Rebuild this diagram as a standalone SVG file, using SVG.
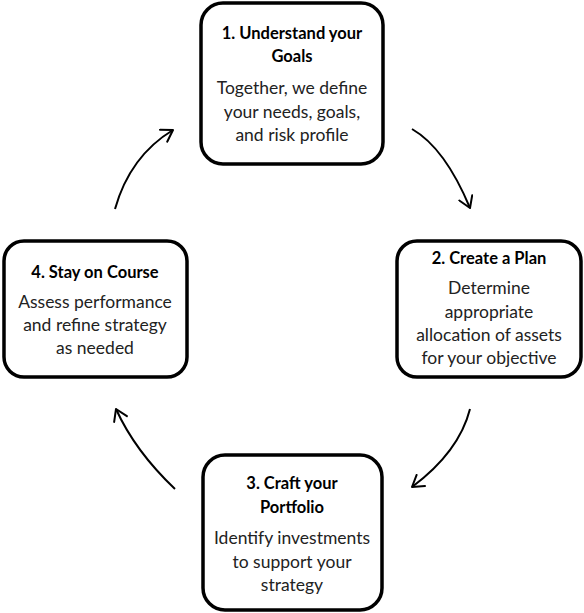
<svg xmlns="http://www.w3.org/2000/svg" width="584" height="613" viewBox="0 0 584 613">
<defs>
<style>
.box{fill:#fff;stroke:#000;stroke-width:3.5}
.t{font-family:Lato,"Open Sans","Liberation Sans",sans-serif;font-weight:bold;font-size:16.5px;fill:#000;text-anchor:middle}
.b{font-family:Lato,"Open Sans","Liberation Sans",sans-serif;font-size:17.5px;fill:#222;text-anchor:middle}
.arr{fill:none;stroke:#000;stroke-width:2;marker-end:url(#ah)}
</style>
<marker id="ah" markerWidth="16" markerHeight="16" viewBox="-12 -8 14 16" refX="0" refY="0" orient="auto" markerUnits="userSpaceOnUse">
<path d="M-11,-7 L0,0 L-11,7" fill="none" stroke="#000" stroke-width="2" stroke-linecap="round" stroke-linejoin="round"/>
</marker>
</defs>
<rect width="584" height="613" fill="#fff"/>
<g id="connectors">
<path class="arr" d="M115,209 Q130,156 173,130"/>
<path class="arr" d="M412,129 Q445,148 470,208"/>
<path class="arr" d="M470,409 Q459,452 412,487"/>
<path class="arr" d="M175,489 Q135,451 116,409"/>
</g>
<g id="node1">
<rect class="box" x="201" y="3" width="182" height="161" rx="22"/>
<text class="t" x="292" y="39">1. Understand your</text>
<text class="t" x="292" y="62">Goals</text>
<text class="b" x="292" y="94">Together, we define</text>
<text class="b" x="292" y="118">your needs, goals,</text>
<text class="b" x="292" y="141">and risk profile</text>
</g>
<g id="node2">
<rect class="box" x="397" y="241" width="184" height="136" rx="20"/>
<text class="t" x="489" y="264">2. Create a Plan</text>
<text class="b" x="489" y="294">Determine</text>
<text class="b" x="489" y="318">appropriate</text>
<text class="b" x="489" y="341">allocation of assets</text>
<text class="b" x="489" y="364">for your objective</text>
</g>
<g id="node3">
<rect class="box" x="203" y="455" width="179" height="155" rx="22"/>
<text class="t" x="292" y="489">3. Craft your</text>
<text class="t" x="292" y="513">Portfolio</text>
<text class="b" x="292" y="544">Identify investments</text>
<text class="b" x="292" y="568">to support your</text>
<text class="b" x="292" y="591">strategy</text>
</g>
<g id="node4">
<rect class="box" x="4" y="241" width="183" height="136" rx="20"/>
<text class="t" x="95" y="278">4. Stay on Course</text>
<text class="b" x="95" y="308">Assess performance</text>
<text class="b" x="95" y="331">and refine strategy</text>
<text class="b" x="95" y="354">as needed</text>
</g>
</svg>
